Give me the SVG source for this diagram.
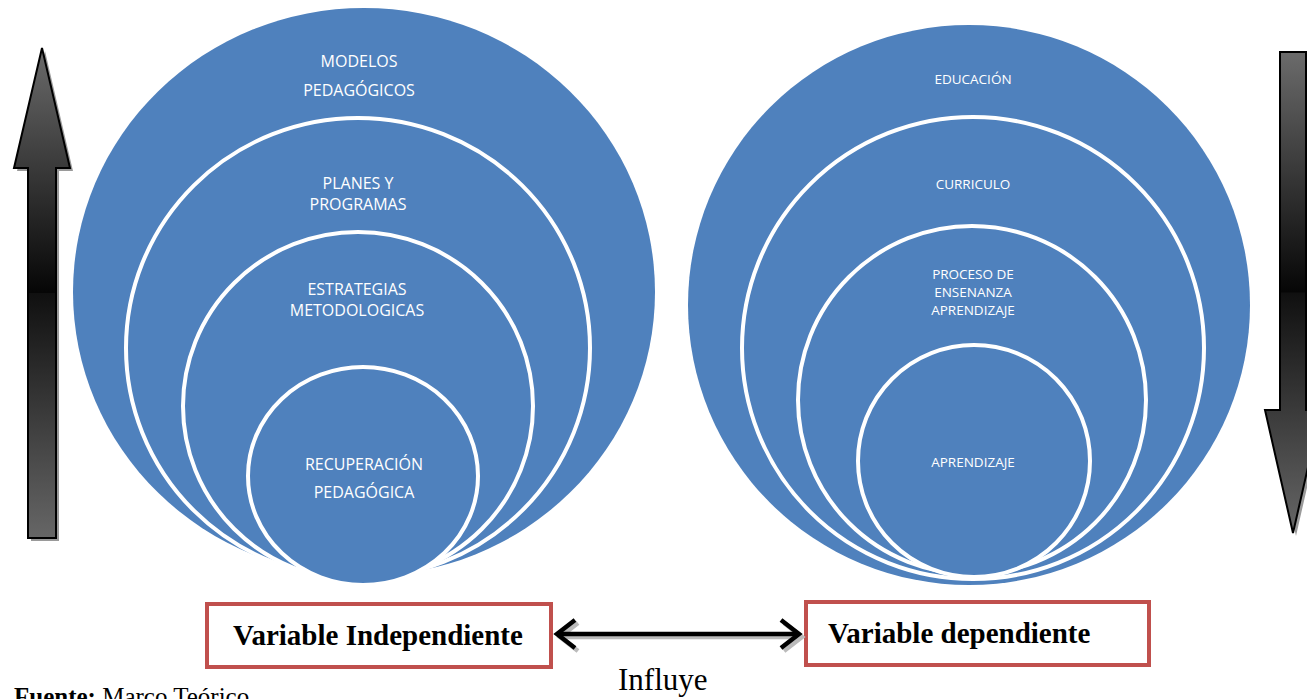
<svg xmlns="http://www.w3.org/2000/svg" width="1307" height="699" viewBox="0 0 1307 699">
<defs>
<linearGradient id="gArrow" x1="0" y1="0" x2="0" y2="1" gradientUnits="objectBoundingBox">
<stop offset="0" stop-color="#6b6b6b"/>
<stop offset="0.499" stop-color="#060606"/>
<stop offset="0.501" stop-color="#101010"/>
<stop offset="1" stop-color="#666666"/>
</linearGradient>
<marker id="chev" markerWidth="8" markerHeight="10" refX="6" refY="5" orient="auto-start-reverse" markerUnits="userSpaceOnUse" viewBox="0 0 8 10" overflow="visible">
<path d="M-12,-9 L6,5 L-12,19" fill="none" stroke="#000" stroke-width="4.5" stroke-linejoin="miter"/>
</marker>
<marker id="chevS" markerWidth="8" markerHeight="10" refX="6" refY="5" orient="auto-start-reverse" markerUnits="userSpaceOnUse" viewBox="0 0 8 10" overflow="visible">
<path d="M-12,-9 L6,5 L-12,19" fill="none" stroke="#bbb" stroke-width="4.5"/>
</marker>
</defs>
<style>
.c{fill:#4F81BD}
.w{fill:#4F81BD;stroke:#fff;stroke-width:4}
.t{font-family:"Open Sans","Liberation Sans",sans-serif;fill:#fff;text-anchor:middle}
.tl{font-size:16px}
.ts{font-size:13.5px}
.box{fill:#fff;stroke:#C0504D;stroke-width:4}
.bt{font-family:"Liberation Serif",serif;font-weight:bold;font-size:29px;fill:#000}
.ar{fill:url(#gArrow);stroke:#000;stroke-width:2}
.sh{fill:#9a9a9a}
</style>
<rect width="1307" height="699" fill="#fff"/>

<g id="arrow-up">
<path class="sh" d="M45,51 L73,171 L59,171 L59,541 L31,541 L31,171 L17,171 Z"/>
<path class="ar" d="M42,48 L70,168 L56,168 L56,538 L28,538 L28,168 L14,168 Z"/>
</g>
<g id="arrow-down">
<path class="sh" d="M1283,55 L1309,55 L1309,413 L1324,413 L1296,536 L1268,413 L1283,413 Z"/>
<path class="ar" d="M1280,52 L1306,52 L1306,410 L1321,410 L1293,533 L1265,410 L1280,410 Z"/>
</g>

<g id="left-circles">
<g id="n-modelos">
<ellipse class="c" cx="364" cy="292" rx="291" ry="284"/>
<text class="t tl" x="359" y="67">MODELOS</text>
<text class="t tl" x="359" y="96">PEDAGÓGICOS</text>
</g>
<g id="n-planes">
<ellipse class="w" cx="358" cy="348" rx="232" ry="230"/>
<text class="t tl" x="358" y="189">PLANES Y</text>
<text class="t tl" x="358" y="210">PROGRAMAS</text>
</g>
<g id="n-estrategias">
<ellipse class="w" cx="358" cy="406" rx="175" ry="174"/>
<text class="t tl" x="357" y="295">ESTRATEGIAS</text>
<text class="t tl" x="357" y="316">METODOLOGICAS</text>
</g>
<g id="n-recuperacion">
<ellipse class="w" cx="363" cy="476" rx="115" ry="109"/>
<text class="t tl" x="364" y="470">RECUPERACIÓN</text>
<text class="t tl" x="364" y="498">PEDAGÓGICA</text>
</g>
</g>

<g id="right-circles">
<g id="n-educacion">
<ellipse class="c" cx="969" cy="305" rx="281" ry="280"/>
<text class="t ts" x="973" y="84">EDUCACIÓN</text>
</g>
<g id="n-curriculo">
<ellipse class="w" cx="973" cy="348" rx="231" ry="231"/>
<text class="t ts" x="973" y="189">CURRICULO</text>
</g>
<g id="n-proceso">
<ellipse class="w" cx="972" cy="400" rx="174" ry="174"/>
<text class="t ts" x="973" y="279">PROCESO DE</text>
<text class="t ts" x="973" y="297">ENSENANZA</text>
<text class="t ts" x="973" y="315">APRENDIZAJE</text>
</g>
<g id="n-aprendizaje">
<ellipse class="w" cx="974" cy="461" rx="116" ry="116"/>
<text class="t ts" x="973" y="467">APRENDIZAJE</text>
</g>
</g>

<g id="n-var-indep">
<rect class="box" x="207" y="604" width="344" height="63"/>
<text class="bt" x="378" y="645" text-anchor="middle">Variable Independiente</text>
</g>
<g id="n-var-dep">
<rect class="box" x="806" y="602" width="343" height="63"/>
<text class="bt" x="828" y="643">Variable dependiente</text>
</g>

<g id="connectors">
<line x1="560" y1="637" x2="802" y2="637" stroke="#bbb" stroke-width="4.5" marker-start="url(#chevS)" marker-end="url(#chevS)"/>
<line x1="557" y1="634" x2="799" y2="634" stroke="#000" stroke-width="4.5" marker-start="url(#chev)" marker-end="url(#chev)"/>
</g>

<text x="618" y="690" font-family="Liberation Serif, serif" font-size="31" fill="#000">Influye</text>
<text x="14" y="705" font-family="Liberation Serif, serif" font-size="25" fill="#000"><tspan font-weight="bold">Fuente:</tspan> Marco Teórico</text>
</svg>
